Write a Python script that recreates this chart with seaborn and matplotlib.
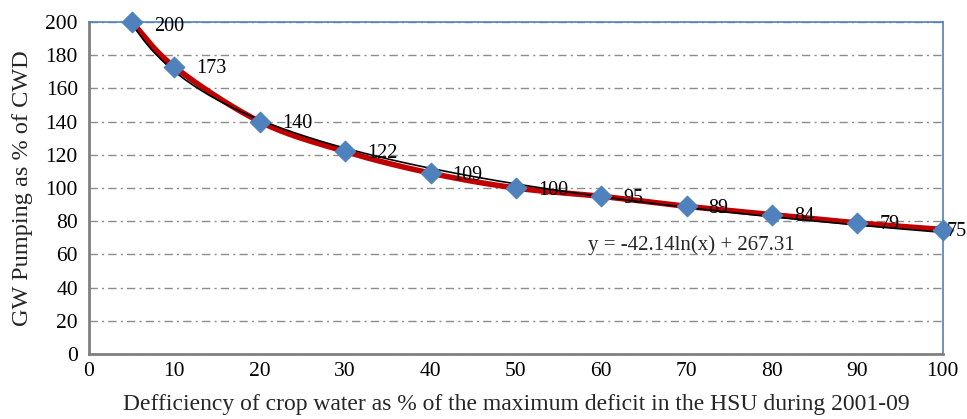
import numpy as np
import pandas as pd
import matplotlib
matplotlib.use("Agg")
import matplotlib.pyplot as plt
import seaborn as sns

deficiency = [5, 10, 20, 30, 40, 50, 60, 70, 80, 90, 100]
pumping = [200, 173, 140, 122, 109, 100, 95, 89, 84, 79, 75]
x_ticks = list(range(0, 101, 10))
y_ticks = list(range(0, 201, 20))
equation = "y = -42.14ln(x) + 267.31"

sns.set_theme(style="white")
plt.rcParams['font.family'] = ['Liberation Serif', 'DejaVu Serif']

df = pd.DataFrame({"x": deficiency, "y": pumping})

fig = plt.figure(figsize=(9.67, 4.19), dpi=100)
ax = fig.add_axes([0.092, 0.155, 0.883, 0.7925])

# smooth red curve (Catmull-Rom through the data points)
xs = np.array(deficiency, float)
ys = np.array(pumping, float)
px = np.concatenate([[2 * xs[0] - xs[1]], xs, [2 * xs[-1] - xs[-2]]])
py = np.concatenate([[2 * ys[0] - ys[1]], ys, [2 * ys[-1] - ys[-2]]])
cx, cy = [], []
t = np.linspace(0, 1, 30)
for i in range(1, len(px) - 2):
    p0, p1, p2, p3 = [np.array([px[j], py[j]]) for j in range(i - 1, i + 3)]
    pts = 0.5 * ((2 * p1)[None, :] + (-p0 + p2)[None, :] * t[:, None]
                 + (2 * p0 - 5 * p1 + 4 * p2 - p3)[None, :] * t[:, None] ** 2
                 + (-p0 + 3 * p1 - 3 * p2 + p3)[None, :] * t[:, None] ** 3)
    cx.extend(pts[:, 0]); cy.extend(pts[:, 1])
smooth = pd.DataFrame({"x": cx, "y": cy})
sns.lineplot(data=smooth, x="x", y="y", ax=ax, color="#C00000", lw=4, sort=False, zorder=3)

# log trendline
a, b = np.polyfit(np.log(xs), ys, 1)
tx = np.linspace(xs[0], xs[-1], 200)
trend = pd.DataFrame({"x": tx, "y": a * np.log(tx) + b})
sns.lineplot(data=trend, x="x", y="y", ax=ax, color="black", lw=1.2, zorder=4)

sns.scatterplot(data=df, x="x", y="y", ax=ax, marker="D", s=110, color="#4F81BD",
                edgecolor="#4F81BD", zorder=5, clip_on=False)

for i, (xv, yv) in enumerate(zip(deficiency, pumping)):
    dx = 22 if i < len(deficiency) - 1 else 4
    dy = -5 if i == 0 else -2
    ax.annotate(str(yv), (xv, yv), xytext=(dx, dy), textcoords="offset pixels",
                ha="left", va="center", fontsize=14.5, color="black", zorder=6,
                annotation_clip=False)

ax.text(58.4, 65.7, equation, fontsize=15, ha="left", va="center")

ax.set_xlim(0, 100)
ax.set_ylim(0, 200)
ax.set_xticks(x_ticks)
ax.set_yticks(y_ticks)
ax.tick_params(axis="both", labelsize=15.5, colors="#808080", labelcolor="black")
ax.tick_params(axis="x", direction="inout", length=8, width=1.5, pad=2)
ax.tick_params(axis="y", direction="out", length=5, width=1.5, pad=3)
ax.yaxis.grid(True, linestyle=(0, (6, 3, 1.5, 3)), color="#8c8c8c", lw=1)
ax.xaxis.grid(False)
ax.set_axisbelow(True)
for s in ["left", "bottom"]:
    ax.spines[s].set_color("#808080")
    ax.spines[s].set_linewidth(2)
for s in ["top", "right"]:
    ax.spines[s].set_color("#4F81BD")
    ax.spines[s].set_linewidth(1.2)

ax.set_xlabel("Defficiency of crop water as % of the maximum deficit in the HSU during 2001-09",
              fontsize=17, labelpad=9)
ax.set_ylabel("GW Pumping as % of CWD", fontsize=17.5, labelpad=9)

fig.savefig("out.png", dpi=100)
